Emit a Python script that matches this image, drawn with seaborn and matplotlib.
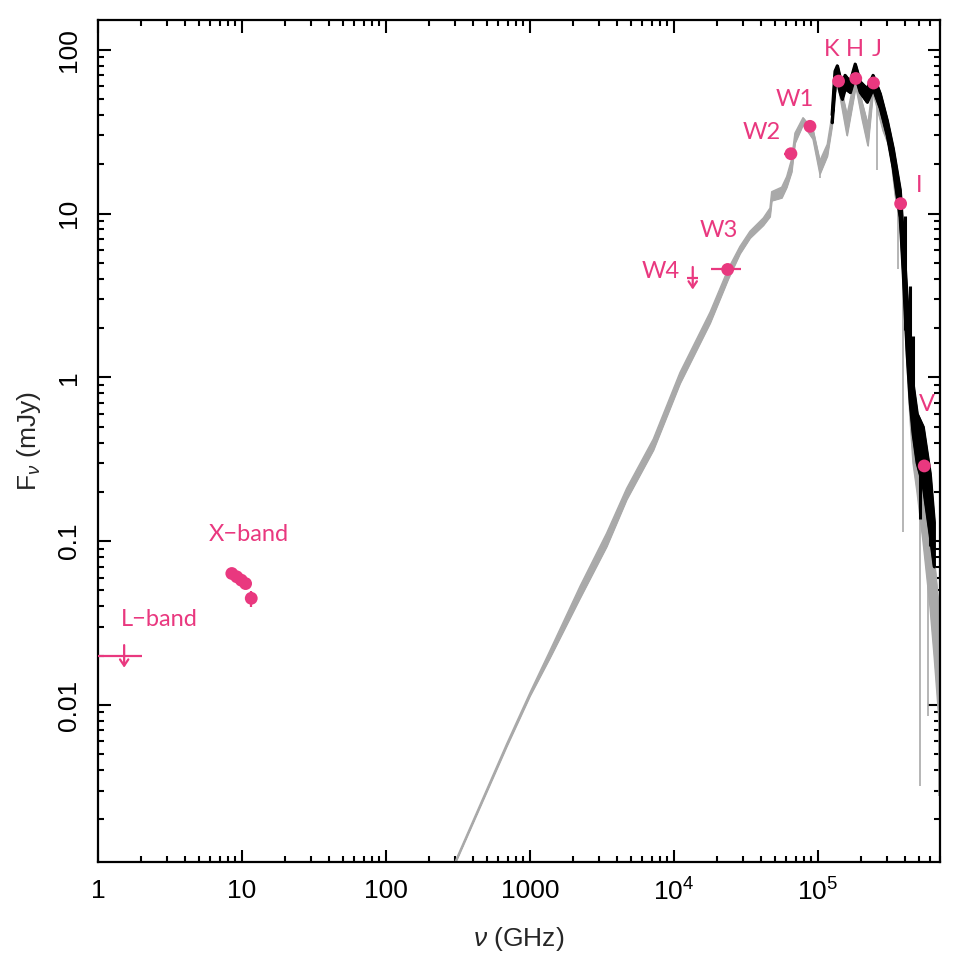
import numpy as np
import pandas as pd
import matplotlib
matplotlib.use("Agg")
import matplotlib.pyplot as plt
import matplotlib.ticker as mticker
import seaborn as sns

# ---- model spectrum (grey), envelope
nu_mod = [280, 689, 1000, 1377, 2224, 3407, 4690, 7180, 1.10e4, 1.78e4, 2.38e4,
          2.87e4, 3.37e4, 4.17e4, 4.64e4, 4.77e4, 5.6e4, 6.06e4, 6.56e4, 6.92e4,
          7.87e4, 9.23e4, 1.03e5, 1.16e5, 1.25e5, 1.31e5, 1.38e5, 1.59e5, 1.83e5,
          2.02e5, 2.22e5, 2.41e5, 2.83e5, 3.16e5, 3.43e5, 3.71e5, 3.89e5, 4.15e5,
          4.36e5, 4.57e5, 4.87e5, 5.36e5, 5.99e5, 6.4e5, 7.1e5]
f_mod_lo = [0.00093, 0.0056, 0.0114, 0.0195, 0.045, 0.093, 0.18, 0.36, 0.92, 2.15, 4.0,
            5.7, 7.1, 8.5, 9.6, 12.0, 12.5, 14.5, 18.0, 27.0,
            35.0, 28.5, 17.5, 22.5, 34.0, 55.0, 60.0, 30.0, 60.0,
            38.0, 26.0, 55.0, 32.0, 25.0, 13.0, 9.0, 4.0, 1.2,
            0.55, 0.30, 0.20, 0.10, 0.04, 0.02, 0.006]
f_mod_hi = [0.00095, 0.0058, 0.0119, 0.0215, 0.053, 0.112, 0.21, 0.42, 1.07, 2.5, 4.6,
            6.3, 7.8, 9.4, 10.8, 13.6, 14.5, 16.8, 21.5, 31.0,
            38.5, 32.5, 21.0, 26.5, 40.0, 64.0, 70.0, 40.0, 72.0,
            48.0, 35.0, 64.0, 42.0, 32.0, 18.0, 13.0, 8.0, 2.5,
            1.2, 0.70, 0.50, 0.40, 0.18, 0.08, 0.03]

# grey absorption spikes: frequency, top, bottom
spk_nu = [1.03e5, 2.57e5, 3.59e5, 3.89e5, 5.1e5, 5.8e5, 6.9e5]
spk_top = [19, 50, 12, 8, 0.35, 0.10, 0.03]
spk_bot = [16.5, 18.5, 4.56, 0.113, 0.0032, 0.0086, 0.0028]

# ---- observed spectrum (black)
nu_obs = [1.25e5, 1.31e5, 1.36e5, 1.42e5, 1.47e5, 1.54e5, 1.67e5, 1.81e5, 1.96e5,
          2.19e5, 2.41e5, 2.70e5, 3.02e5, 3.32e5, 3.71e5, 3.89e5, 4.15e5, 4.36e5,
          4.57e5, 4.87e5, 5.36e5, 5.99e5, 6.4e5]
f_obs_lo = [36, 60, 68, 55, 50, 58, 55, 70, 55, 48, 58, 44, 30, 19, 9.5, 4.5, 1.4,
            0.7, 0.45, 0.30, 0.22, 0.11, 0.07]
f_obs_hi = [40, 74, 80, 68, 62, 70, 64, 82, 64, 58, 70, 54, 37, 25, 14, 7.5, 3.0,
            1.5, 0.9, 0.6, 0.50, 0.26, 0.13]
obs_spk_nu = [4.0e5, 4.36e5, 4.57e5, 5.1e5, 5.99e5]
obs_spk_top = [9.6, 3.6, 1.78, 0.50, 0.25]
obs_spk_bot = [1.96, 0.88, 0.61, 0.136, 0.093]

# ---- photometry
phot_band = ["W3", "W2", "W1", "K", "H", "J", "I", "V"]
phot_nu = [2.36e4, 6.49e4, 8.8e4, 1.39e5, 1.83e5, 2.43e5, 3.75e5, 5.47e5]
phot_f = [4.56, 23.2, 34.1, 64.4, 66.8, 62.7, 11.5, 0.288]
phot_nu_lo = [1.82e4, 5.83e4, 8.8e4, 1.39e5, 1.83e5, 2.43e5, 3.75e5, 5.47e5]
phot_nu_hi = [2.9e4, 7.2e4, 8.8e4, 1.39e5, 1.83e5, 2.43e5, 3.75e5, 5.47e5]

xband_nu = [8.5, 9.2, 9.9, 10.6, 11.6]
xband_f = [0.0635, 0.0606, 0.0578, 0.0551, 0.0448]
xband_err = [0.002, 0.002, 0.002, 0.002, 0.005]

# upper limits: nu, limit, nu_lo, nu_hi
lim_name = ["L-band", "W4"]
lim_nu = [1.52, 1.35e4]
lim_f = [0.020, 4.07]
lim_nu_lo = [1.0, 1.24e4]
lim_nu_hi = [2.02, 1.48e4]

# labels
lab_text = ["K", "H", "J", "W1", "W2", "W3", "W4", "I", "V", "X\u2212band", "L\u2212band"]
lab_nu = [1.25e5, 1.81e5, 2.57e5, 6.9e4, 4.08e4, 2.05e4, 8.1e3, 5.03e5, 5.69e5, 11.2, 2.65]
lab_f = [100, 100, 100, 50, 31.2, 7.9, 4.45, 14.9, 0.684, 0.11, 0.0333]

pink = "#E9387F"
grey = "#A9A9A9"

sns.set_style("ticks")
plt.rcParams["font.family"] = ["Liberation Sans", "DejaVu Sans"]
plt.rcParams["mathtext.fontset"] = "custom"
plt.rcParams["mathtext.rm"] = "Liberation Sans"
plt.rcParams["mathtext.it"] = "Liberation Sans:italic"

fig = plt.figure(figsize=(9.7, 9.76), dpi=100)
ax = fig.add_axes([0.101, 0.1168, 0.868, 0.8627])

# grey model
mod = pd.DataFrame({"nu": nu_mod, "lo": f_mod_lo, "hi": f_mod_hi})
ax.fill_between(mod["nu"], mod["lo"], mod["hi"], color=grey, lw=0.8, zorder=1)
sns.lineplot(data=mod, x="nu", y="hi", color=grey, lw=1.0, ax=ax, zorder=1)
sns.lineplot(data=mod, x="nu", y="lo", color=grey, lw=1.0, ax=ax, zorder=1)
ax.vlines(spk_nu, spk_bot, spk_top, color=grey, lw=1.2, zorder=1)

# black observed spectrum
obs = pd.DataFrame({"nu": nu_obs, "lo": f_obs_lo, "hi": f_obs_hi})
ax.fill_between(obs["nu"], obs["lo"], obs["hi"], color="black", lw=2.0, zorder=2)
sns.lineplot(data=obs, x="nu", y="hi", color="black", lw=2.0, ax=ax, zorder=2)
sns.lineplot(data=obs, x="nu", y="lo", color="black", lw=2.0, ax=ax, zorder=2)
ax.vlines(obs_spk_nu, obs_spk_bot, obs_spk_top, color="black", lw=2.2, zorder=2)

# photometry points
phot = pd.DataFrame({"nu": phot_nu, "f": phot_f})
xerr = [np.array(phot_nu) - np.array(phot_nu_lo), np.array(phot_nu_hi) - np.array(phot_nu)]
ax.errorbar(phot_nu, phot_f, xerr=xerr, fmt="none", ecolor=pink, elinewidth=1.6, zorder=3)
sns.scatterplot(data=phot, x="nu", y="f", color=pink, s=85, edgecolor="none", ax=ax, zorder=4)

xb = pd.DataFrame({"nu": xband_nu, "f": xband_f})
ax.errorbar(xband_nu, xband_f, yerr=xband_err, fmt="none", ecolor=pink, elinewidth=1.6, zorder=3)
sns.scatterplot(data=xb, x="nu", y="f", color=pink, s=85, edgecolor="none", ax=ax, zorder=4)

# upper limits
for nu, f, lo, hi in zip(lim_nu, lim_f, lim_nu_lo, lim_nu_hi):
    ax.hlines(f, lo, hi, color=pink, lw=1.6, zorder=3)
    ax.annotate("", xy=(nu, f * 0.845), xytext=(nu, f * 1.16),
                arrowprops=dict(arrowstyle="->,head_length=0.45,head_width=0.3",
                                color=pink, lw=1.6, shrinkA=0, shrinkB=0), zorder=3)

for t, x, y in zip(lab_text, lab_nu, lab_f):
    ax.text(x, y, t, color=pink, fontsize=17, ha="center", va="center",
            family=["Lato", "DejaVu Sans"], fontweight="normal")

ax.set_xscale("log")
ax.set_yscale("log")
ax.set_xlim(1, 7.03e5)
ax.set_ylim(0.0011, 152)

ax.set_xticks([1, 10, 100, 1000, 1e4, 1e5])
ax.set_xticklabels(["1", "10", "100", "1000", "$10^4$", "$10^5$"])
ax.set_yticks([0.01, 0.1, 1, 10, 100])
ax.set_yticklabels(["0.01", "0.1", "1", "10", "100"], rotation=90, va="center")
ax.xaxis.set_minor_locator(mticker.LogLocator(base=10, subs=np.arange(2, 10), numticks=20))
ax.yaxis.set_minor_locator(mticker.LogLocator(base=10, subs=np.arange(2, 10), numticks=20))
ax.xaxis.set_minor_formatter(mticker.NullFormatter())
ax.yaxis.set_minor_formatter(mticker.NullFormatter())

ax.tick_params(which="both", direction="in", top=True, right=True, width=1.5,
               labelsize=19, colors="black")
ax.tick_params(which="major", length=9, pad=12)
ax.tick_params(which="minor", length=4.5)
for s in ax.spines.values():
    s.set_linewidth(1.6)
    s.set_color("black")

ax.set_xlabel(r"$\it{\nu}$ (GHz)", fontsize=19, labelpad=14)
ax.set_ylabel(r"F$_{\nu}$ (mJy)", fontsize=19, labelpad=10)

fig.savefig("out.png", dpi=100)
